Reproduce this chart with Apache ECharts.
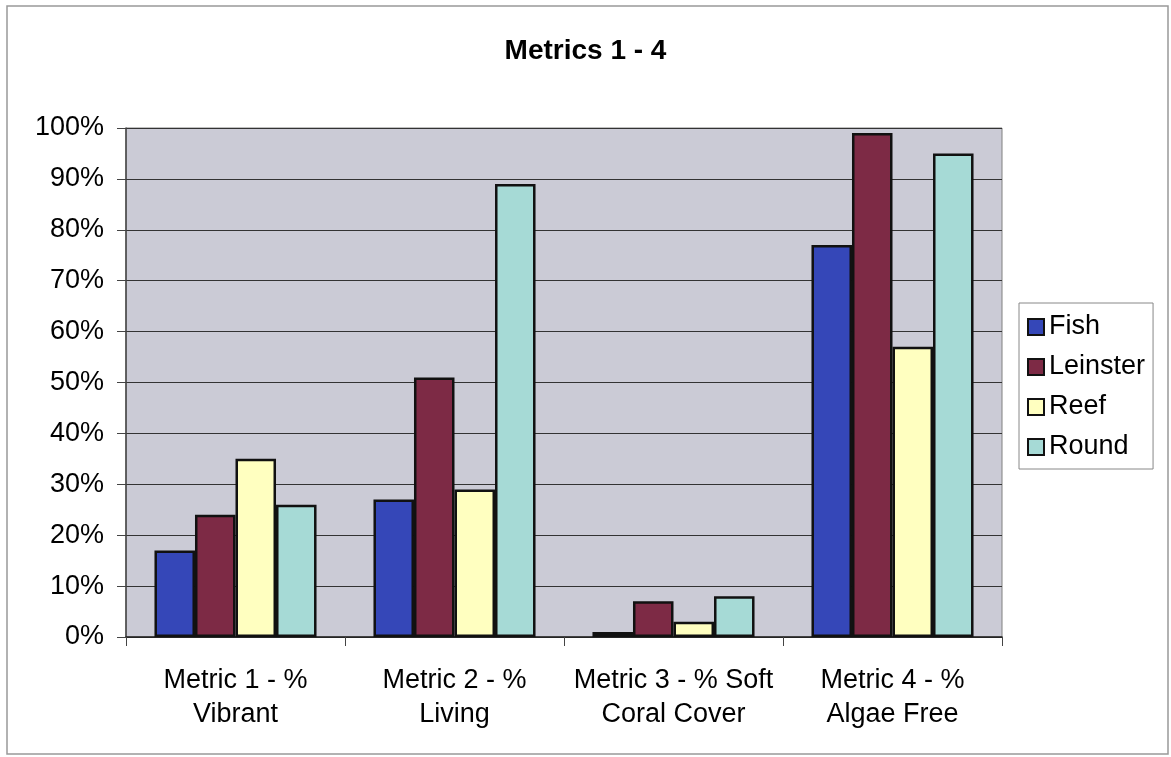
<!DOCTYPE html>
<html>
<head>
<meta charset="utf-8">
<script src="https://cdn.jsdelivr.net/npm/echarts@6/dist/echarts.min.js"></script>
<style>html,body{margin:0;padding:0;background:#fff;}#c{width:1171px;height:757px;}</style>
</head>
<body>
<div id="c"></div>
<script>
var categories = ['Metric 1 - %\nVibrant', 'Metric 2 - %\nLiving', 'Metric 3 - % Soft\nCoral Cover', 'Metric 4 - %\nAlgae Free'];
var fish = [17, 27, 1, 77];
var leinster = [24, 51, 7, 99];
var reef = [35, 29, 3, 57];
var round = [26, 89, 8, 95];
var seriesNames = ['Fish', 'Leinster', 'Reef', 'Round'];
var seriesColors = ['#3547B8', '#7D2A45', '#FFFFC0', '#A6DAD6'];

var FONT = '"Liberation Sans", Arial, sans-serif';
var chart = echarts.init(document.getElementById('c'));
var dataSets = [fish, leinster, reef, round];
var series = dataSets.map(function (d, i) {
  return {
    name: seriesNames[i],
    type: 'bar',
    data: d,
    barGap: '0%',
    barCategoryGap: '26%',
    itemStyle: { color: seriesColors[i], borderColor: '#111', borderWidth: 2.5 },
    emphasis: { disabled: true }
  };
});
chart.setOption({
  animation: false,
  backgroundColor: '#fff',
  textStyle: { fontFamily: FONT },
  title: {
    text: 'Metrics 1 - 4',
    left: 'center',
    top: 32,
    textStyle: { fontFamily: FONT, fontSize: 28, fontWeight: 'bold', color: '#000' }
  },
  graphic: [{
    type: 'rect',
    shape: { x: 7, y: 6, width: 1161, height: 748 },
    style: { fill: 'none', stroke: '#999', lineWidth: 1.5 },
    silent: true
  }],
  legend: {
    orient: 'vertical',
    left: 1019,
    top: 303,
    padding: [9, 8, 7, 8],
    itemWidth: 16,
    itemHeight: 16,
    itemGap: 10,
    itemTextGap: 9,
    borderColor: '#888',
    borderWidth: 1,
    backgroundColor: '#fff',
    icon: 'rect',
    data: seriesNames,
    textStyle: { fontFamily: FONT, fontSize: 27, color: '#000', lineHeight: 30 }
  },
  grid: {
    left: 126, right: 169, top: 128, bottom: 120,
    show: true,
    backgroundColor: '#CBCBD6',
    borderColor: '#808080',
    borderWidth: 1
  },
  xAxis: {
    type: 'category',
    data: categories,
    axisLine: { lineStyle: { color: '#222', width: 1.5 } },
    axisTick: { show: true, length: 9, inside: false, lineStyle: { color: '#444' } },
    axisLabel: { fontFamily: FONT, fontSize: 27, color: '#000', lineHeight: 34, margin: 27, interval: 0 }
  },
  yAxis: {
    type: 'value',
    min: 0, max: 100, interval: 10,
    axisLine: { show: true, lineStyle: { color: '#444', width: 1.5 } },
    axisTick: { show: true, length: 9, lineStyle: { color: '#444' } },
    axisLabel: { fontFamily: FONT, fontSize: 27, color: '#000', margin: 22, formatter: '{value}%' },
    splitLine: { show: true, lineStyle: { color: '#333', width: 1 } }
  },
  series: series
});
</script>
</body>
</html>
